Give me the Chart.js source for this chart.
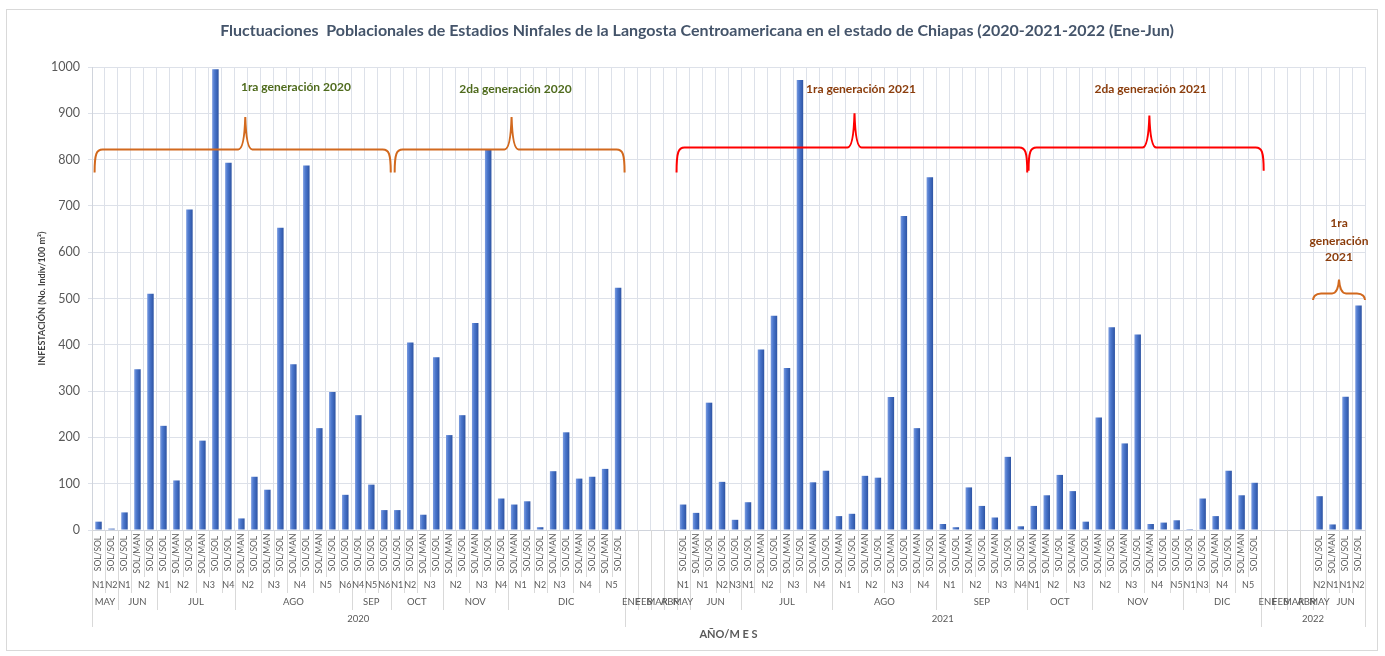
<!DOCTYPE html>
<html lang="es">
<head>
<meta charset="utf-8">
<title>Fluctuaciones Poblacionales - Langosta Centroamericana</title>
<script src="https://cdn.jsdelivr.net/npm/chart.js@4.4.1/dist/chart.umd.min.js"></script>
<style>
  html, body { margin: 0; background: #fff; }
  canvas { display: block; }
</style>
</head>
<body>
<canvas id="grafica" width="1385" height="656"></canvas>
<script>
// --- datos ---
const tipos = [
  // 2020
  'SOL/SOL', 'SOL/SOL',
  'SOL/SOL', 'SOL/MAN', 'SOL/SOL',
  'SOL/SOL', 'SOL/MAN', 'SOL/SOL', 'SOL/MAN', 'SOL/SOL', 'SOL/SOL',
  'SOL/MAN', 'SOL/SOL', 'SOL/MAN', 'SOL/SOL', 'SOL/MAN', 'SOL/SOL', 'SOL/MAN', 'SOL/SOL', 'SOL/SOL',
  'SOL/SOL', 'SOL/SOL', 'SOL/SOL',
  'SOL/SOL', 'SOL/SOL', 'SOL/MAN', 'SOL/SOL',
  'SOL/MAN', 'SOL/SOL', 'SOL/MAN', 'SOL/SOL', 'SOL/SOL',
  'SOL/MAN', 'SOL/SOL', 'SOL/SOL', 'SOL/MAN', 'SOL/SOL', 'SOL/MAN', 'SOL/SOL', 'SOL/MAN', 'SOL/SOL',
  // 2021
  '', '', '', '',
  'SOL/SOL',
  'SOL/MAN', 'SOL/SOL', 'SOL/SOL', 'SOL/SOL',
  'SOL/SOL', 'SOL/MAN', 'SOL/SOL', 'SOL/MAN', 'SOL/SOL', 'SOL/MAN', 'SOL/SOL',
  'SOL/MAN', 'SOL/SOL', 'SOL/MAN', 'SOL/SOL', 'SOL/MAN', 'SOL/SOL', 'SOL/MAN', 'SOL/SOL',
  'SOL/MAN', 'SOL/SOL', 'SOL/MAN', 'SOL/SOL', 'SOL/MAN', 'SOL/SOL', 'SOL/SOL',
  'SOL/MAN', 'SOL/MAN', 'SOL/SOL', 'SOL/MAN', 'SOL/SOL',
  'SOL/MAN', 'SOL/SOL', 'SOL/MAN', 'SOL/SOL', 'SOL/MAN', 'SOL/SOL', 'SOL/SOL',
  'SOL/SOL', 'SOL/SOL', 'SOL/MAN', 'SOL/SOL', 'SOL/MAN', 'SOL/SOL',
  // 2022
  '', '', '', '',
  'SOL/SOL',
  'SOL/MAN', 'SOL/SOL', 'SOL/SOL'
];

const infestacion = [
  // 2020
  18, 3,
  38, 347, 510,
  225, 107, 692, 193, 995, 793,
  25, 115, 87, 653, 358, 787, 220, 298, 76,
  248, 98, 43,
  43, 405, 33, 373,
  205, 248, 447, 822, 68,
  55, 62, 6, 127, 211, 111, 115, 132, 523,
  // 2021
  null, null, null, null,
  55,
  37, 275, 104, 22,
  60, 390, 463, 350, 972, 103, 128,
  30, 35, 117, 113, 287, 678, 220, 762,
  13, 6, 92, 52, 27, 158, 8,
  52, 75, 119, 84, 18,
  243, 438, 187, 422, 13, 16, 21,
  2, 68, 30, 128, 75, 102,
  // 2022
  null, null, null, null,
  73,
  12, 288, 485
];

// [etiqueta, número de categorías que abarca]
const ninfas = [
  ['N1', 1], ['N2', 1],
  ['N1', 1], ['N2', 2],
  ['N1', 1], ['N2', 2], ['N3', 2], ['N4', 1],
  ['N2', 2], ['N3', 2], ['N4', 2], ['N5', 2], ['N6', 1],
  ['N4', 1], ['N5', 1], ['N6', 1],
  ['N1', 1], ['N2', 1], ['N3', 2],
  ['N2', 2], ['N3', 2], ['N4', 1],
  ['N1', 2], ['N2', 1], ['N3', 2], ['N4', 2], ['N5', 2],
  ['', 1], ['', 1], ['', 1], ['', 1],
  ['N1', 1],
  ['N1', 2], ['N2', 1], ['N3', 1],
  ['N1', 1], ['N2', 2], ['N3', 2], ['N4', 2],
  ['N1', 2], ['N2', 2], ['N3', 2], ['N4', 2],
  ['N1', 2], ['N2', 2], ['N3', 2], ['N4', 1],
  ['N1', 1], ['N2', 2], ['N3', 2],
  ['N2', 2], ['N3', 2], ['N4', 2], ['N5', 1],
  ['N1', 1], ['N3', 1], ['N4', 2], ['N5', 2],
  ['', 1], ['', 1], ['', 1], ['', 1],
  ['N2', 1],
  ['N1', 1], ['N1', 1], ['N2', 1]
];

const meses = [
  ['MAY', 2], ['JUN', 3], ['JUL', 6], ['AGO', 9], ['SEP', 3], ['OCT', 4], ['NOV', 5], ['DIC', 9],
  ['ENE', 1], ['FEB', 1], ['MAR', 1], ['ABR', 1], ['MAY', 1], ['JUN', 4], ['JUL', 7], ['AGO', 8],
  ['SEP', 7], ['OCT', 5], ['NOV', 7], ['DIC', 6],
  ['ENE', 1], ['FEB', 1], ['MAR', 1], ['ABR', 1], ['MAY', 1], ['JUN', 3]
];

const anios = [['2020', 41], ['2021', 49], ['2022', 8]];

// llaves de generaciones (posiciones en índices de categoría y valores del eje Y)
const llaves = [
  { texto: ['1ra generación 2020'], desde: 0.2, hasta: 23, pico: 11.8, linea: 822, punta: 892, extremo: 772,
    tx: 15.7, ty: [957], color: '#d2691e', colorTexto: '#4f6b1d' },
  { texto: ['2da generación 2020'], desde: 23.3, hasta: 41, pico: 32.3, linea: 822, punta: 892, extremo: 772,
    tx: 32.6, ty: [952], color: '#d2691e', colorTexto: '#4f6b1d' },
  { texto: ['1ra generación 2021'], desde: 45, hasta: 72, pico: 58.7, linea: 826, punta: 900, extremo: 772,
    tx: 59.2, ty: [952], color: '#ff0000', colorTexto: '#8b3d0c' },
  { texto: ['2da generación 2021'], desde: 72.1, hasta: 90.2, pico: 81.4, linea: 826, punta: 895, extremo: 776,
    tx: 81.5, ty: [952], color: '#ff0000', colorTexto: '#8b3d0c' },
  { texto: ['1ra', 'generación', '2021'], desde: 94, hasta: 98, pico: 96, linea: 511, punta: 541, extremo: 497,
    tx: 96, ty: [662, 625, 590], color: '#d2691e', colorTexto: '#8b3d0c' }
];

Chart.defaults.font.family = 'Lato, "Open Sans", sans-serif';

function grupoInicios(grupos) {
  const s = new Set();
  let i = 0;
  grupos.forEach(g => { s.add(i); i += g[1]; });
  s.add(i);
  return s;
}

const fondo = {
  id: 'fondo',
  beforeDraw(chart) {
    const ctx = chart.ctx;
    ctx.save();
    ctx.fillStyle = '#fff';
    ctx.fillRect(0, 0, chart.width, chart.height);
    ctx.strokeStyle = '#d9d9d9';
    ctx.lineWidth = 1;
    ctx.strokeRect(6.5, 9.5, 1371, 641);
    ctx.fillStyle = '#44546a';
    ctx.font = 'bold 16px Lato, sans-serif';
    ctx.textAlign = 'center';
    ctx.textBaseline = 'middle';
    ctx.fillText('Fluctuaciones  Poblacionales de Estadios Ninfales de la Langosta Centroamericana en el estado de Chiapas (2020-2021-2022 (Ene-Jun)', 697, 31);
    ctx.restore();
  }
};

const ejeMultinivel = {
  id: 'ejeMultinivel',
  afterDraw(chart) {
    const { ctx, scales: { x } } = chart;
    const n = tipos.length;
    const borde = i => x.getPixelForValue(i - 0.5);
    const base = x.top;
    const filas = [base, base + 47, base + 63, base + 80, base + 97];
    const iniN = grupoInicios(ninfas), iniM = grupoInicios(meses), iniA = grupoInicios(anios);

    ctx.save();
    ctx.strokeStyle = '#d9d9d9';
    ctx.lineWidth = 1;
    for (let b = 0; b <= n; b++) {
      let nivel = 1;
      if (iniA.has(b)) nivel = 4;
      else if (iniM.has(b)) nivel = 3;
      else if (iniN.has(b)) nivel = 2;
      const px = Math.round(borde(b)) + 0.5;
      ctx.beginPath();
      ctx.moveTo(px, base);
      ctx.lineTo(px, filas[nivel]);
      ctx.stroke();
    }

    ctx.fillStyle = '#595959';
    ctx.textBaseline = 'middle';
    ctx.textAlign = 'center';
    ctx.font = '8.5px Lato, sans-serif';
    tipos.forEach((t, i) => {
      if (!t) return;
      ctx.save();
      ctx.translate(x.getPixelForValue(i), (filas[0] + filas[1]) / 2);
      ctx.rotate(-Math.PI / 2);
      ctx.fillText(t, 0, 0);
      ctx.restore();
    });

    const filaGrupos = (grupos, fila) => {
      let i = 0;
      grupos.forEach(([txt, cuenta]) => {
        const cx = (borde(i) + borde(i + cuenta)) / 2;
        if (txt) ctx.fillText(txt, cx, (filas[fila] + filas[fila + 1]) / 2);
        i += cuenta;
      });
    };
    ctx.font = '9px Lato, sans-serif';
    filaGrupos(ninfas, 1);
    ctx.font = '9.5px Lato, sans-serif';
    filaGrupos(meses, 2);
    filaGrupos(anios, 3);

    ctx.font = 'bold 11px Lato, sans-serif';
    ctx.fillStyle = '#595959';
    ctx.fillText('AÑO/M E S', (x.left + x.right) / 2, filas[4] + 7);
    ctx.restore();
  }
};

const generaciones = {
  id: 'generaciones',
  afterDatasetsDraw(chart) {
    const { ctx, scales: { x, y } } = chart;
    const bx = i => x.getPixelForValue(i - 0.5);
    ctx.save();
    llaves.forEach(l => {
      const xl = bx(l.desde), xr = bx(l.hasta), xc = bx(l.pico);
      const yl = y.getPixelForValue(l.linea), yt = y.getPixelForValue(l.punta), ye = y.getPixelForValue(l.extremo);
      ctx.strokeStyle = l.color;
      ctx.lineWidth = 2;
      ctx.beginPath();
      ctx.moveTo(xl, ye);
      ctx.bezierCurveTo(xl, yl + 4, xl + 2, yl, xl + 8, yl);
      ctx.lineTo(xc - 7, yl);
      ctx.quadraticCurveTo(xc - 1, yl, xc, yt);
      ctx.quadraticCurveTo(xc + 1, yl, xc + 7, yl);
      ctx.lineTo(xr - 8, yl);
      ctx.bezierCurveTo(xr - 2, yl, xr, yl + 4, xr, ye);
      ctx.stroke();

      ctx.fillStyle = l.colorTexto;
      ctx.font = 'bold 12px Lato, sans-serif';
      ctx.textAlign = 'center';
      ctx.textBaseline = 'middle';
      l.texto.forEach((t, k) => ctx.fillText(t, bx(l.tx), y.getPixelForValue(l.ty[k])));
    });
    ctx.restore();
  }
};

function colorBarra(c) {
  const x = c.chart.scales.x;
  const cx = x ? x.getPixelForValue(c.dataIndex) : NaN;
  if (!isFinite(cx)) return '#4472c4';
  const g = c.chart.ctx.createLinearGradient(cx - 3.5, 0, cx + 3.5, 0);
  g.addColorStop(0, '#7f9fe2');
  g.addColorStop(0.4, '#4a76cc');
  g.addColorStop(1, '#2b51a0');
  return g;
}

new Chart(document.getElementById('grafica'), {
  type: 'bar',
  data: {
    labels: tipos,
    datasets: [{
      label: 'Infestación',
      data: infestacion,
      backgroundColor: colorBarra,
      borderWidth: 0,
      barPercentage: 0.5,
      categoryPercentage: 1
    }]
  },
  options: {
    responsive: false,
    animation: false,
    layout: { padding: { top: 67, right: 20, bottom: 126, left: 0 } },
    plugins: {
      legend: { display: false },
      tooltip: { enabled: false },
      title: { display: false }
    },
    scales: {
      x: {
        offset: true,
        ticks: { display: false },
        grid: { display: true, offset: true, color: '#dde1e9', drawTicks: false },
        border: { display: true, color: '#d0d4dc' }
      },
      y: {
        min: 0,
        max: 1000,
        ticks: { stepSize: 100, color: '#595959', font: { size: 12.5 }, padding: 8, callback: v => String(v) },
        grid: { color: '#dde1e9', tickLength: 4 },
        border: { display: true, color: '#d0d4dc' },
        title: {
          display: true,
          text: 'INFESTACIÓN (No. Indiv/100 m²)',
          color: '#404040',
          font: { size: 9, weight: 'bold' },
          padding: { top: 37, bottom: 0 }
        },
        afterFit(scale) { scale.width = 92; }
      }
    }
  },
  plugins: [fondo, ejeMultinivel, generaciones]
});
</script>
</body>
</html>
